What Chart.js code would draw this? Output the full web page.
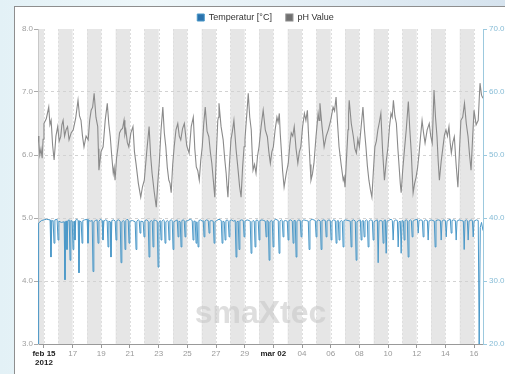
<!DOCTYPE html>
<html><head><meta charset="utf-8">
<script src="https://cdn.jsdelivr.net/npm/chart.js@4.4.0/dist/chart.umd.min.js"></script>
<style>
html,body{margin:0;padding:0;width:505px;height:374px;overflow:hidden;}
body{position:relative;background:linear-gradient(90deg,#e3f1f6 0%,#eef7fa 30%,#d6e3ee 100%);}
#panel{position:absolute;left:14px;top:6px;width:520px;height:400px;background:#fff;border:1px solid #8e8e8e;}
#wrap{position:absolute;left:0;top:0;width:505px;height:374px;}
</style></head>
<body><div id="panel"></div><div id="wrap"><canvas id="c" width="505" height="374"></canvas></div>
<script>
// Time axis: hours since 2012-02-15 00:00
const xTickHours = [0,48,96,144,192,240,288,336,384,432,480,528,576,624,672,720];
const xTickLabels = [['feb 15','2012'],'17','19','21','23','25','27','29','mar 02','04','06','08','10','12','14','16'];
const boldTicks = [0,384];
const phTicks = [3,4,5,6,7,8];
const tempTicks = [20,30,40,50,60,70];
const seriesNames = ['Temperatur [°C]','pH Value'];

const phHours = [
-10,-8.5,-7,-5,-3,-1.5,0,4,8,10,
12,14.5,17,20,23,25.5,28,30,32,34.5,
37,39.5,42,45.5,49,53,57,59.5,62,64.5,
67,70.5,74,76.5,79,81.5,84,87,90,91,
92,95.5,99,102.5,106,108.5,111,113.5,116,117.5,
119,121.5,124,126.5,129,131.5,134,135.5,137,139.5,
142,145.5,149,151.5,154,158,162,165,168,172,
176,178.5,181,184.5,188,190.5,193,196,199,201.5,
204,206.5,209,211,213,215.5,218,221,224,226.5,
229,232,235,239,243,246.5,250,252.5,255,257.5,
260,262.5,265,267.5,270,273,276,278.5,281,283.5,
286,288.5,291,292,293,296.5,300,302.5,305,306.5,
308,310.5,313,315.5,318,321.5,325,327.5,330,332.5,
335,336.5,338,340,342,344.5,347,348.5,350,352.5,
355,357.5,360,363.5,367,370.5,374,376.5,379,381.5,
384,387,390,392,394,395.5,397,399.5,402,405.5,
409,411.5,414,416.5,419,422,425,427.5,430,433,
436,438.5,441,442.5,444,445.5,447,449.5,452,455.5,
459,460.5,462,465.5,469,472.5,476,480,484,486.5,
489,491.5,494,497.5,501,502.5,504,506.5,509,510,
511,514.5,518,520.5,523,525.5,528,531,534,536.5,
539,541.5,544,546.5,549,551.5,554,556.5,559,561.5,
564,567,570,573,576,578.5,581,583,585,587.5,
590,592.5,595,596.5,598,600.5,603,606.5,610,612.5,
615,616.5,618,620.5,623,625.5,628,630.5,633,635.5,
638,641.5,645,647.5,650,651.5,653,655.5,658,660,
662,665,668,670.5,673,675.5,678,680,682,684.5,
687,690,693,695.5,698,701,704,707,710,712.5,
715,717.5,720,723.5,727,728.5,730,732.5,735];
const phValues = [
6.30,6.18,6.00,6.10,5.95,6.25,6.50,6.58,6.76,6.48,
6.55,6.15,5.92,6.30,6.45,6.22,6.29,6.48,6.55,6.30,
6.40,6.45,6.24,6.35,6.40,6.58,6.87,6.62,6.55,6.30,
6.13,6.30,6.24,6.55,6.71,6.76,6.98,6.60,6.45,6.10,
5.76,6.05,6.13,6.55,6.82,6.50,6.29,5.98,5.71,5.80,
5.60,5.95,6.13,6.35,6.40,6.42,6.55,6.33,6.40,6.20,
6.13,6.35,6.45,6.05,5.87,5.55,5.33,5.50,5.60,6.05,
6.45,6.00,5.71,5.42,5.17,5.55,5.87,6.40,6.76,6.35,
6.13,5.80,5.60,5.55,5.40,5.85,6.13,6.40,6.50,6.30,
6.24,6.42,6.50,6.15,6.03,6.45,6.60,6.10,5.81,5.75,
5.60,5.92,6.13,6.50,6.76,6.38,6.29,6.05,5.87,5.60,
5.33,6.00,6.55,6.60,6.82,6.45,6.24,5.95,5.71,5.50,
5.33,5.85,6.24,6.38,6.55,6.10,5.76,5.50,5.33,5.80,
6.13,6.25,6.45,6.70,6.98,6.60,6.40,6.05,5.76,5.85,
5.71,5.98,6.13,6.45,6.71,6.40,6.29,6.05,5.87,6.05,
6.13,6.40,6.60,6.52,6.66,6.35,6.13,5.75,5.49,5.70,
5.87,6.15,6.35,6.30,6.45,6.10,5.87,6.05,6.13,6.45,
6.66,6.55,6.71,6.40,6.13,5.85,5.60,5.70,5.87,6.30,
6.66,6.55,6.82,6.45,6.13,6.30,6.40,6.55,6.76,6.70,
6.92,6.50,6.13,5.85,5.60,5.65,5.49,5.95,6.40,6.65,
6.87,6.50,6.29,6.10,6.03,6.25,6.13,6.45,6.76,6.40,
6.13,5.82,5.60,5.45,5.33,5.75,6.13,6.22,6.40,6.52,
6.66,6.05,5.60,5.90,6.13,6.45,6.66,6.60,6.87,6.62,
6.50,6.10,5.76,5.55,5.40,5.75,6.03,6.40,6.85,6.40,
6.03,5.70,5.40,5.55,5.65,5.80,6.03,6.30,6.55,6.35,
6.19,6.40,6.50,6.30,6.19,6.60,7.03,6.60,6.29,5.90,
5.60,5.90,6.13,6.32,6.40,6.30,6.45,6.20,6.03,6.20,
6.29,5.85,5.49,6.05,6.55,6.60,6.82,6.50,6.29,6.00,
5.76,6.25,6.71,6.48,6.55,6.85,7.14,6.95,6.90];

const tempHours = [
-10,-9,-4,4,10.2,11.7,13.2,15.3,16.8,18.3,
22,23.5,25,29,33.7,35.2,36.5,37.7,38.5,40,
42.3,43.6,45,47.3,48.6,50,51,51.9,53.2,55,
57.2,58.6,60,62.3,63.7,65,68,72.3,73.7,75,
78,80.7,82.1,83.5,86,89,90.5,92,95,97.3,
98.8,100.3,103,105.8,107.2,108.6,110.8,112.2,113.6,117,
119.2,120.6,122,125,127.6,129,130.4,133,134.3,135.7,
137,139,141,142.4,143.8,148,152.7,154.1,155.5,158,
159.4,160.8,162.2,166,167.5,169,172,174.5,175.9,177.3,
180,181.3,182.6,184,187,189.6,191,192.4,194.6,196,
197.4,200,201.3,202.7,204.1,206.5,208,209.4,210.8,213,
214.7,216.1,217.5,221,223.1,224.5,225.9,228.1,229.5,230.9,
233,234.8,236.2,237.6,241,245,248.2,249.6,251,253.2,
254.6,256,258,259.4,262,265,266.6,268,269.4,272,
275,276.4,277.8,280,283.4,284.8,286.2,289,293,296.8,
298.2,299.6,301.8,303.2,304.6,307,308.5,309.9,311.3,314,
317,320.2,321.6,323,325.2,326.6,328,331,333.6,335,
336.4,340,343.5,345.3,346.7,348.1,350,352,353.4,354.8,
357,358.7,360.1,361.5,365,368,370.5,371.9,373.3,375.5,
376.9,378.3,380.5,382.2,383.6,385,388,392.2,393.6,395,
397.5,398.9,400.3,401.7,404,407.3,408.7,410.1,413,415.7,
417.1,418.5,420.7,422.1,423.5,426,429.1,430.5,431.9,435,
439,442.5,443.9,445.3,449,454.2,455.6,457,460,462.6,
464,465.4,468.5,471,472.4,473.8,477,479.3,480.7,482.1,
485,487.7,489.1,490.5,492.7,494.1,495.5,498,499.4,500.8,
502.2,505,509,512.8,514.2,515.6,518.5,521.2,522.6,524,
527,529.6,531,532.4,534.6,536,537.4,540,541.3,542.7,
544.1,547,549.7,551.1,552.5,555.5,558.1,559.5,560.9,564,
566.4,567.8,569.2,571.5,572.9,574.3,577,581,583.2,584.6,
586,589,591.6,593,594.4,596.6,598,599.4,601.6,603,
604.4,606.5,608.3,609.7,611.1,613.5,615,616.4,617.8,621,
625.1,626.5,627.9,631,633.4,634.8,636.2,639,641.8,643.2,
644.6,648,651,653.5,654.9,656.3,660,663.6,665,666.4,
669.5,672,673.4,674.8,678,680.3,681.7,683.1,686,688.7,
690.1,691.5,695,699,702.1,703.5,704.9,707.5,708.8,710.2,
711.6,715,717.2,718.6,720,724,727,728.6,730.5,732.5,
735];
const tempValues = [
20.0,39.2,39.6,39.8,39.7,33.8,39.5,39.6,36.0,39.7,
39.8,36.5,39.5,39.3,39.4,30.2,39.5,39.5,35.0,39.6,
39.7,33.3,39.6,39.5,35.0,39.4,39.5,36.5,39.7,39.8,
39.6,31.3,39.5,39.4,36.0,39.6,39.7,39.8,36.0,39.6,
39.5,39.6,31.5,39.4,39.6,39.7,36.0,39.5,39.8,39.6,
36.5,39.5,39.7,39.6,35.4,39.5,39.4,33.8,39.6,39.7,
39.5,36.5,39.6,39.7,39.5,32.9,39.4,39.6,39.5,35.0,
39.6,39.8,39.7,36.0,39.5,39.6,39.4,35.0,39.5,39.7,
39.6,37.6,39.5,39.4,37.0,39.6,39.7,39.5,33.8,39.4,
39.6,39.5,35.4,39.7,39.6,39.5,32.2,39.3,39.6,36.5,
39.5,39.7,39.6,36.0,39.4,39.6,39.5,36.5,39.6,39.7,
39.6,35.0,39.4,39.6,39.7,37.0,39.5,39.4,35.4,39.6,
39.7,39.6,37.0,39.5,39.6,39.8,39.6,36.5,39.5,39.5,
36.0,39.4,35.4,39.6,39.7,39.5,39.6,37.0,39.5,39.7,
39.6,37.6,39.5,39.6,39.5,36.0,39.4,39.6,39.8,39.6,
36.0,39.5,39.4,36.5,39.6,39.7,39.5,37.0,39.6,39.7,
39.5,39.6,33.8,39.4,39.5,35.0,39.6,39.7,39.6,37.0,
39.5,39.7,39.6,39.5,34.4,39.4,39.6,39.5,35.4,39.6,
39.7,39.5,36.5,39.6,39.7,39.6,39.5,37.0,39.6,39.5,
33.3,39.4,39.6,39.5,35.4,39.6,39.8,39.6,34.4,39.5,
39.7,39.6,37.0,39.5,39.6,39.5,36.5,39.6,39.7,39.5,
36.0,39.6,39.6,33.8,39.4,39.7,39.6,37.0,39.5,39.7,
39.6,39.5,35.0,39.6,39.8,39.6,37.0,39.5,39.7,39.5,
35.0,39.6,39.7,39.6,37.0,39.5,39.7,39.6,36.5,39.5,
39.7,39.6,36.0,39.5,39.6,36.5,39.4,39.6,39.5,35.4,
39.6,39.7,39.6,39.5,35.4,39.6,39.7,39.5,33.3,39.4,
39.6,39.7,36.5,39.5,39.6,37.0,39.5,39.7,39.6,35.4,
39.5,39.7,39.6,36.5,39.4,39.6,39.7,32.9,39.5,39.6,
39.5,36.0,39.6,39.7,34.4,39.5,39.6,39.8,39.6,36.5,
39.5,39.7,39.6,35.4,39.4,39.5,34.4,39.6,39.5,36.5,
39.6,39.7,39.6,33.8,39.5,39.7,39.6,37.0,39.5,39.7,
39.8,37.6,39.6,39.7,39.6,37.0,39.5,39.7,39.6,36.5,
39.5,39.7,39.6,39.5,35.4,39.6,39.7,39.6,36.5,39.5,
39.7,39.6,37.0,39.5,39.7,39.8,37.6,39.6,39.7,39.6,
36.5,39.5,39.7,39.6,39.5,35.0,39.6,39.7,39.6,36.5,
39.5,39.7,39.6,37.0,39.5,39.7,39.6,20.0,38.5,39.3,
38.0];

const FONT = '"Liberation Sans", Arial, sans-serif';

const bandsPlugin = {
  id: 'bands',
  beforeDraw(chart) {
    const {ctx, chartArea: a, scales: {x}} = chart;
    ctx.save();
    ctx.fillStyle = '#e6e6e6';
    for (let d = -1; d <= 30; d++) {
      if (Math.abs(d) % 2 !== 1) continue;
      const x1 = Math.max(a.left, x.getPixelForValue(d * 24));
      const x2 = Math.min(a.right, x.getPixelForValue((d + 1) * 24));
      if (x2 > x1) ctx.fillRect(x1, a.top, x2 - x1, a.bottom - a.top);
    }
    ctx.strokeStyle = '#dedede';
    ctx.lineWidth = 1;
    ctx.setLineDash([2, 2]);
    for (let d = 0; d <= 30; d++) {
      const px = Math.round(x.getPixelForValue(d * 24)) + 0.5;
      ctx.beginPath(); ctx.moveTo(px, a.top); ctx.lineTo(px, a.bottom); ctx.stroke();
    }
    ctx.setLineDash([]);
    ctx.fillStyle = 'rgba(200,200,200,0.6)';
    ctx.font = 'bold 32px ' + FONT;
    ctx.textAlign = 'center';
    ctx.textBaseline = 'alphabetic';
    ctx.fillText('smaXtec', (a.left + a.right) / 2, a.bottom - 21);
    ctx.restore();
  },
  afterLayout(chart) {
    const l = chart.legend;
    if (l) { l.top -= 5; l.bottom -= 5; l.left += 6; l.right += 6; }
  }
};

new Chart(document.getElementById('c'), {
  type: 'line',
  data: {
    datasets: [
      {
        label: seriesNames[0],
        data: tempHours.map((h, i) => ({x: h, y: tempValues[i]})),
        yAxisID: 'y1',
        borderColor: '#4a98c8',
        backgroundColor: '#2a72ad',
        borderWidth: 1,
        pointRadius: 0,
        tension: 0,
        fill: false
      },
      {
        label: seriesNames[1],
        data: phHours.map((h, i) => ({x: h, y: phValues[i]})),
        yAxisID: 'y',
        borderColor: '#8a8a8a',
        backgroundColor: '#707070',
        borderWidth: 1.1,
        pointRadius: 0,
        tension: 0,
        fill: false
      }
    ]
  },
  options: {
    responsive: false,
    animation: false,
    devicePixelRatio: 1,
    layout: {padding: {left: 14, top: 4, right: 0, bottom: 0}},
    plugins: {
      legend: {
        display: true,
        position: 'top',
        maxHeight: 25,
        labels: {
          font: {family: FONT, size: 9},
          color: '#333',
          boxWidth: 7,
          boxHeight: 7,
          padding: 14
        }
      },
      tooltip: {enabled: false}
    },
    scales: {
      x: {
        type: 'linear',
        min: -10,
        max: 735,
        afterFit(s) { s.height = 30; },
        afterBuildTicks(s) { s.ticks = xTickHours.map(v => ({value: v})); },
        grid: {display: true, drawOnChartArea: false, drawTicks: true, tickLength: 4, tickColor: '#999'},
        border: {display: true, color: '#999'},
        ticks: {
          autoSkip: false,
          maxRotation: 0,
          padding: 1,
          callback: (v) => { const i = xTickHours.indexOf(v); return i >= 0 ? xTickLabels[i] : ''; },
          font: (c) => ({family: FONT, size: 8, weight: (c.tick && boldTicks.includes(c.tick.value)) ? 'bold' : 'normal', lineHeight: 1.15}),
          color: (c) => (c.tick && boldTicks.includes(c.tick.value)) ? '#222' : '#999'
        }
      },
      y: {
        type: 'linear',
        position: 'left',
        min: 3,
        max: 8,
        afterFit(s) { s.width = 24; },
        afterBuildTicks(s) { s.ticks = phTicks.map(v => ({value: v})); },
        grid: {
          color: (c) => (c.tick && (c.tick.value === 3 || c.tick.value === 8)) ? 'rgba(0,0,0,0)' : '#d2d2d2',
          tickColor: '#aaa',
          tickLength: 4,
          drawTicks: true
        },
        border: {display: true, color: '#c8c8c8', dash: [3, 3]},
        ticks: {
          padding: 1,
          callback: (v) => Number(v).toFixed(1),
          font: {family: FONT, size: 8},
          color: '#a0a0a0'
        }
      },
      y1: {
        type: 'linear',
        position: 'right',
        min: 20,
        max: 70,
        afterFit(s) { s.width = 22; },
        afterBuildTicks(s) { s.ticks = tempTicks.map(v => ({value: v})); },
        grid: {drawOnChartArea: false, drawTicks: true, tickLength: 4, tickColor: '#9cc9de'},
        border: {display: true, color: '#9cc9de'},
        ticks: {
          padding: 2,
          callback: (v) => Number(v).toFixed(1),
          font: {family: FONT, size: 8},
          color: '#86bcd6'
        }
      }
    }
  },
  plugins: [bandsPlugin]
});
</script>
</body></html>
